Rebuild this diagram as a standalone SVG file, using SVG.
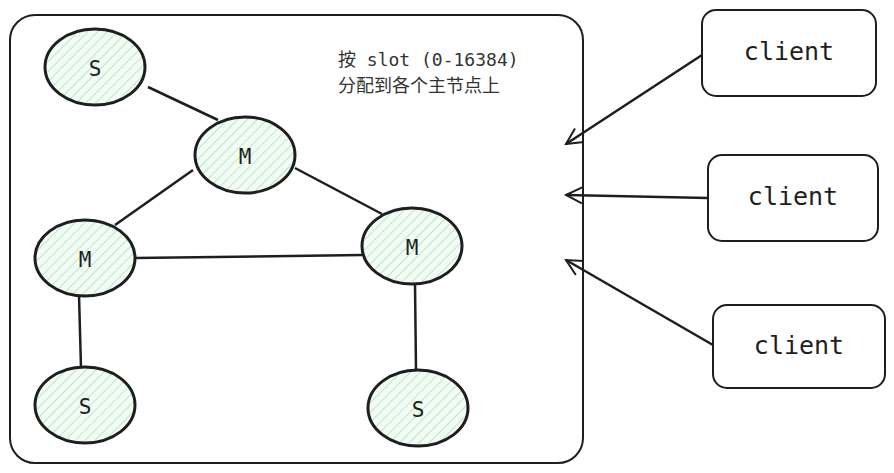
<svg xmlns="http://www.w3.org/2000/svg" width="894" height="473" viewBox="0 0 894 473">
<defs>
<pattern id="h" patternUnits="userSpaceOnUse" width="7" height="7" patternTransform="rotate(45)">
<rect width="7" height="7" fill="#f2fbf4"/>
<line x1="0" y1="0" x2="0" y2="7" stroke="#a7e2b4" stroke-width="1.5"/>
</pattern>
<marker id="a" viewBox="0 0 20 20" refX="18" refY="10" markerWidth="20" markerHeight="20" markerUnits="userSpaceOnUse" orient="auto">
<path d="M2,2 L18,10 L2,18" fill="none" stroke="#1e1e1e" stroke-width="2"/>
</marker>
<style>
.n ellipse{fill:url(#h);stroke:#1e1e1e;stroke-width:3}
.n text{font-family:"DejaVu Sans Mono",monospace;font-size:21px;fill:#1e1e1e;text-anchor:middle;dominant-baseline:central}
.c rect{fill:#fff;stroke:#1e1e1e;stroke-width:2}
.c text{font-family:"DejaVu Sans Mono",monospace;font-size:25px;fill:#1e1e1e;text-anchor:middle;dominant-baseline:central}
.e line{stroke:#1e1e1e;stroke-width:2.5}
</style>
</defs>
<rect width="894" height="473" fill="#fff"/>
<rect x="10" y="15" width="573" height="448" rx="25" fill="none" stroke="#1e1e1e" stroke-width="2"/>
<text font-family="DejaVu Sans Mono,'Noto Sans CJK SC',monospace" font-size="18" fill="#333" x="338" y="66">按 slot (0-16384)</text>
<text font-family="'Noto Sans CJK SC',sans-serif" font-size="18" fill="#333" x="338" y="92">分配到各个主节点上</text>
<g id="connectors" class="e">
<line x1="148" y1="87" x2="218" y2="120"/>
<line x1="193" y1="170" x2="115" y2="225"/>
<line x1="295" y1="168" x2="382" y2="214"/>
<line x1="135" y1="258" x2="362" y2="255"/>
<line x1="79" y1="295" x2="81" y2="368"/>
<line x1="415" y1="284" x2="416" y2="370"/>
<line x1="702" y1="55" x2="566" y2="144" marker-end="url(#a)"/>
<line x1="708" y1="198" x2="566" y2="195" marker-end="url(#a)"/>
<line x1="713" y1="345" x2="566" y2="260" marker-end="url(#a)"/>
</g>
<g id="s1" class="n"><ellipse cx="95" cy="67" rx="50" ry="38"/><text x="95" y="69">S</text></g>
<g id="m1" class="n"><ellipse cx="245" cy="155" rx="50" ry="38"/><text x="245" y="157">M</text></g>
<g id="m2" class="n"><ellipse cx="85" cy="258" rx="50" ry="38"/><text x="85" y="260">M</text></g>
<g id="m3" class="n"><ellipse cx="412" cy="246" rx="50" ry="38"/><text x="412" y="248">M</text></g>
<g id="s2" class="n"><ellipse cx="85" cy="405" rx="50" ry="38"/><text x="85" y="407">S</text></g>
<g id="s3" class="n"><ellipse cx="418" cy="408" rx="50" ry="38"/><text x="418" y="410">S</text></g>
<g id="c1" class="c"><rect x="702" y="10" width="174" height="86" rx="14"/><text x="789" y="51">client</text></g>
<g id="c2" class="c"><rect x="708" y="155" width="170" height="86" rx="14"/><text x="793" y="196">client</text></g>
<g id="c3" class="c"><rect x="713" y="305" width="172" height="83" rx="14"/><text x="799" y="345">client</text></g>
</svg>
